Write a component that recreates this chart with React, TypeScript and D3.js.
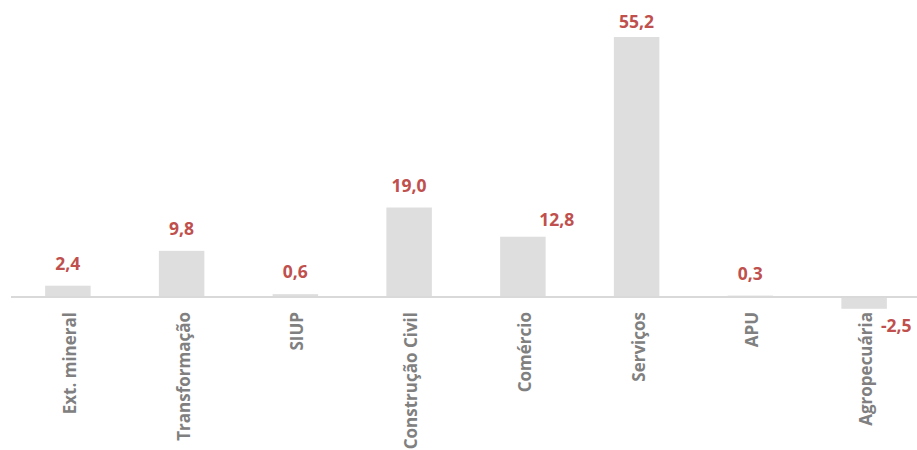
import React from "react";
import * as d3 from "d3";

const categories = ["Ext. mineral", "Transformação", "SIUP", "Construção Civil", "Comércio", "Serviços", "APU", "Agropecuária"];
const values = [2.4, 9.8, 0.6, 19.0, 12.8, 55.2, 0.3, -2.5];

const W = 917;
const H = 450;
const baseY = 297;

export default function App() {
  const x = d3.scaleBand<string>().domain(categories).range([11, 921]).paddingInner(0.6).paddingOuter(0.3);
  const y = d3.scaleLinear().domain([0, 55.2]).range([baseY, 37]);
  const fmt = (v: number) => v.toFixed(1).replace(".", ",");
  const font = "'Open Sans', 'DejaVu Sans', sans-serif";
  return (
    <svg width={W} height={H} style={{ position: "absolute", left: 0, top: 0 }} fontFamily={font}>
      <rect width={W} height={H} fill="#ffffff" />
      {categories.map((c, i) => {
        const v = values[i];
        const x0 = x(c)!;
        const bw = x.bandwidth();
        const top = Math.min(y(v), y(0));
        const h = Math.abs(y(v) - y(0));
        return <rect key={c} x={x0} y={top} width={bw} height={h} fill="#dedede" />;
      })}
      <line x1={11} x2={917} y1={baseY} y2={baseY} stroke="#d9d9d9" strokeWidth={2} />
      {categories.map((c, i) => {
        const v = values[i];
        const cx = x(c)! + x.bandwidth() / 2;
        let lx = cx;
        let ly = Math.max(y(v) - 16, 28);
        let anchor: "middle" | "start" = "middle";
        if (v < 0) {
          lx = x(c)! + x.bandwidth() - 6;
          ly = y(0) + 35;
          anchor = "start";
        } else if (c === "Comércio") {
          lx = cx + 34;
          ly = y(v) - 11;
        }
        return (
          <text key={c} x={lx} y={ly} textAnchor={anchor} fill="#c0504d" fontWeight="bold" fontSize={17.5}>
            {fmt(v)}
          </text>
        );
      })}
      {categories.map((c) => {
        const cx = x(c)! + x.bandwidth() / 2;
        return (
          <text
            key={c}
            transform={`translate(${cx + 8},${baseY + 15}) rotate(-90)`}
            textAnchor="end"
            fill="#808080"
            fontWeight="bold"
            fontSize={17}
          >
            {c}
          </text>
        );
      })}
    </svg>
  );
}
